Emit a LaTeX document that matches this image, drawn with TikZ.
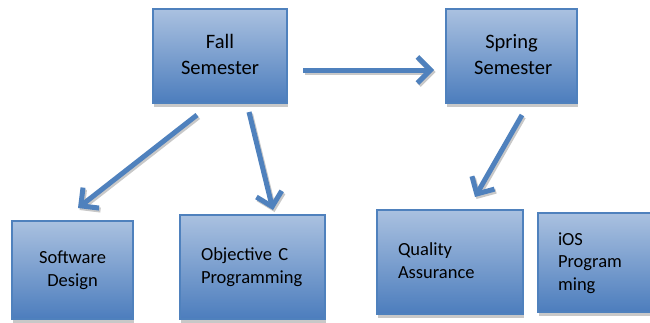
\documentclass[tikz,border=0pt]{standalone}
\usepackage{fontspec}
\setmainfont{Carlito}
\usetikzlibrary{arrows.meta,shadows}
\definecolor{ablue}{RGB}{79,129,189}
\definecolor{atop}{RGB}{170,193,224}
\definecolor{abot}{RGB}{76,125,189}
\definecolor{shgray}{RGB}{200,200,200}
\newcommand{\mystrut}{\rule[-0.25\baselineskip]{0pt}{0.95\baselineskip}}
\tikzset{
  box/.style={rectangle, draw=ablue, line width=1.5pt, top color=atop, bottom color=abot,
    inner sep=0pt, text=black,
    drop shadow={shadow xshift=1pt, shadow yshift=-4pt, fill=shgray, opacity=1}},
  bigtext/.style={font=\fontsize{20.5}{26}\selectfont, align=center},
  smalltext/.style={font=\fontsize{18.5}{22.5}\selectfont},
  arr/.style={line width=5pt, draw=ablue, line cap=butt,
    -{Straight Barb[length=13pt,width=26pt]}},
  arrsh/.style={arr, draw=shgray, transform canvas={xshift=1.5pt,yshift=-2pt}}
}
\begin{document}
\begin{tikzpicture}[x=1pt,y=-1pt]
\clip (0,0) rectangle (650,322);
\fill[white] (0,0) rectangle (650,322);
% boxes
\node[box, bigtext, minimum width=134pt, minimum height=94pt] (fall) at (220,56) {\mystrut Fall\\Semester\mystrut};
\node[box, bigtext, minimum width=131pt, minimum height=94pt] (spring) at (511.5,56) {\mystrut Spring\\\,Semester\mystrut};
\node[box, smalltext, align=center, minimum width=121pt, minimum height=98pt] (sw) at (72.5,270) {\mystrut Software\\Design\mystrut};
\node[box, smalltext, align=left, text width=103pt, inner xsep=21pt, minimum width=145pt, minimum height=104pt] (objc) at (252.5,267) {\mystrut Objective C\\Programming\mystrut};
\node[box, smalltext, align=left, text width=104pt, inner xsep=21pt, minimum width=146pt, minimum height=104pt] (qa) at (450,262) {\mystrut Quality\\Assurance\mystrut};
\node[box, smalltext, align=left, text width=82pt, inner xsep=20pt, minimum width=122pt, minimum height=99pt] (ios) at (599,262.5) {\mystrut iOS\\Program\\ming\mystrut};
% connector end points
\coordinate (a1s) at (303,70);  \coordinate (a1e) at (434,70);
\coordinate (a2s) at (197,115); \coordinate (a2e) at (78,208);
\coordinate (a3s) at (249,112); \coordinate (a3e) at (273,210);
\coordinate (a4s) at (522,115); \coordinate (a4e) at (475,197);
% shadows of arrows
\draw[arrsh] (a1s) -- (a1e);
\draw[arrsh] (a2s) -- (a2e);
\draw[arrsh] (a3s) -- (a3e);
\draw[arrsh] (a4s) -- (a4e);
% arrows
\draw[arr] (a1s) -- (a1e);
\draw[arr] (a2s) -- (a2e);
\draw[arr] (a3s) -- (a3e);
\draw[arr] (a4s) -- (a4e);
\end{tikzpicture}
\end{document}
